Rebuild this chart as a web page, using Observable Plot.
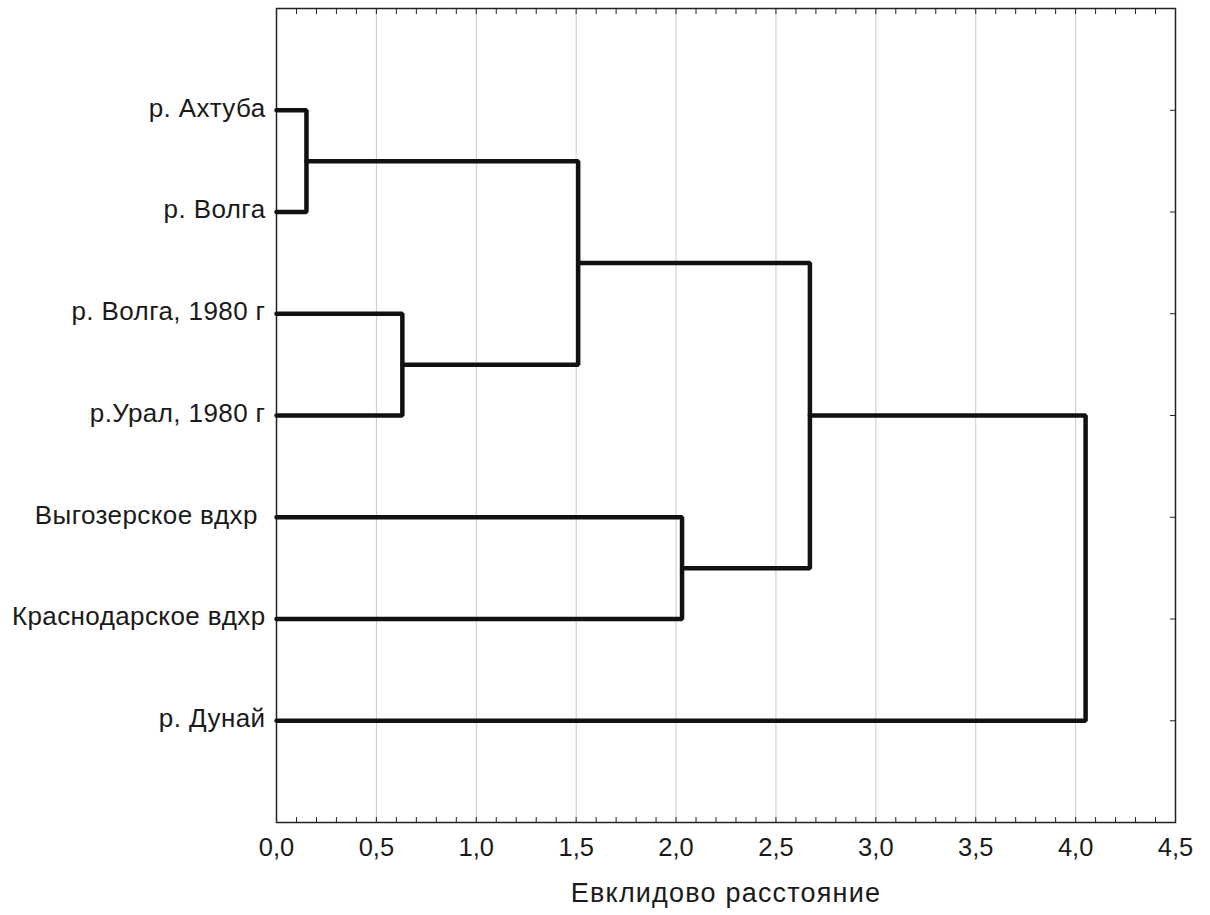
<!DOCTYPE html>
<html>
<head>
<meta charset="utf-8">
<script src="https://cdn.jsdelivr.net/npm/d3@7"></script>
<script src="https://cdn.jsdelivr.net/npm/@observablehq/plot@0.6"></script>
<style>
  html, body { margin: 0; padding: 0; background: #fff; }
  svg { font-family: "Liberation Sans", Arial, sans-serif; }
  .lbl text { letter-spacing: 0.4px; }
  .ttl text { letter-spacing: 1.2px; }
</style>
</head>
<body>
<div id="chart"></div>
<script>
// Leaves (top to bottom)
const leaves = ["р. Ахтуба", "р. Волга", "р. Волга, 1980 г", "р.Урал, 1980 г", "Выгозерское вдхр\u00A0", "Краснодарское вдхр", "р. Дунай"];
// Merges: [childA, childB, distance]; leaves 0..6, clusters 7..
const mergeA = [0, 2, 7, 4, 9, 11];
const mergeB = [1, 3, 8, 5, 10, 6];
const mergeDist = [0.15, 0.63, 1.51, 2.03, 2.67, 4.05];
const xTicks = [0, 0.5, 1, 1.5, 2, 2.5, 3, 3.5, 4, 4.5];
const xMinorTicks = d3.range(0, 46).map(i => i / 10);
const xTitle = "Евклидово расстояние";

// build node positions
const nodeY = leaves.map((_, i) => i + 1);
const nodeH = leaves.map(() => 0);
const segs = [];
mergeA.forEach((a, k) => {
  const b = mergeB[k], h = mergeDist[k];
  const id = "m" + k;
  segs.push({id, x: nodeH[a], y: nodeY[a]});
  segs.push({id, x: h, y: nodeY[a]});
  segs.push({id, x: h, y: nodeY[b]});
  segs.push({id, x: nodeH[b], y: nodeY[b]});
  nodeY.push((nodeY[a] + nodeY[b]) / 2);
  nodeH.push(h);
});

const fmt = d => d.toFixed(1).replace(".", ",");

const chart = Plot.plot({
  width: 1210,
  height: 915,
  marginLeft: 276,
  marginRight: 35,
  marginTop: 8,
  marginBottom: 93,
  style: {fontFamily: "'Liberation Sans', Arial, sans-serif", fontSize: "24px", color: "#1a1a1a"},
  x: {domain: [0, 4.5]},
  y: {domain: [0, 8], reverse: true},
  marks: [
    Plot.gridX(xTicks, {stroke: "#c8c8c8", strokeOpacity: 1, strokeWidth: 1}),
    Plot.frame({stroke: "#222", strokeWidth: 1.5}),
    Plot.axisX(xMinorTicks, {anchor: "bottom", tickSize: -5, tickFormat: () => "", stroke: "#222", label: null}),
    Plot.axisX(xMinorTicks, {anchor: "top", tickSize: -5, tickFormat: () => "", stroke: "#222", label: null}),
    Plot.axisX(xTicks, {anchor: "bottom", tickSize: 0, tickPadding: 15, tickFormat: fmt, fontSize: 25.5, fill: "#1a1a1a", label: null}),
    Plot.axisY(d3.range(1, 8), {anchor: "right", tickSize: -6, tickFormat: () => "", stroke: "#222", label: null}),
    Plot.axisY(d3.range(1, 8), {anchor: "left", tickSize: 0, tickPadding: 11, tickFormat: d => leaves[d - 1], fontSize: 26, fill: "#1a1a1a", label: null, className: "lbl", dy: -2}),
    Plot.line(segs, {x: "x", y: "y", z: "id", stroke: "#111", strokeWidth: 4.5, strokeLinejoin: "miter", curve: "linear"}),
    Plot.text([xTitle], {x: () => 2.25, frameAnchor: "bottom", dy: 79, text: d => d, fontSize: 27, fill: "#1a1a1a", className: "ttl"})
  ]
});
document.getElementById("chart").appendChild(chart);
</script>
</body>
</html>
